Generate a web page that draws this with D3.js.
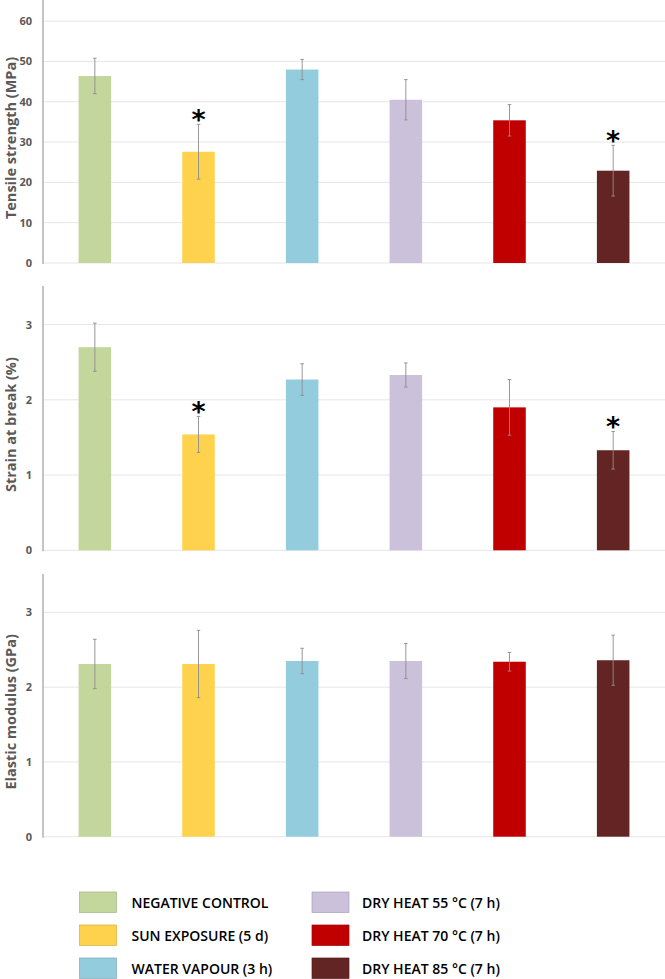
<!DOCTYPE html>
<html>
<head>
<meta charset="utf-8">
<script src="https://cdn.jsdelivr.net/npm/d3@7"></script>
<style>
  body { margin: 0; background: #fff; }
  svg { display: block; }
  text { font-family: "Open Sans", "DejaVu Sans", sans-serif; }
</style>
</head>
<body>
<svg id="chart" width="665" height="979"></svg>
<script>
// groups + colours (shared by all three panels and the legend)
const groups = ['NEGATIVE CONTROL', 'SUN EXPOSURE (5 d)', 'WATER VAPOUR (3 h)',
                'DRY HEAT 55 °C (7 h)', 'DRY HEAT 70 °C (7 h)', 'DRY HEAT 85 °C (7 h)'];
const colors = ['#C3D69B', '#FFD24D', '#93CDDD', '#CCC1DA', '#C00000', '#632523'];

// tensile strength (MPa)
const tensile = [46.4, 27.6, 48.0, 40.5, 35.4, 22.9];
const tensileErr = [4.4, 6.8, 2.5, 5.0, 3.9, 6.3];
const tensileSig = [false, true, false, false, false, true];
const tensileTicks = [0, 10, 20, 30, 40, 50, 60];

// strain at break (%)
const strain = [2.70, 1.54, 2.27, 2.33, 1.90, 1.33];
const strainErr = [0.32, 0.24, 0.21, 0.16, 0.37, 0.25];
const strainSig = [false, true, false, false, false, true];
const strainTicks = [0, 1, 2, 3];

// elastic modulus (GPa)
const modulus = [2.31, 2.31, 2.35, 2.35, 2.34, 2.36];
const modulusErr = [0.33, 0.45, 0.17, 0.235, 0.125, 0.335];
const modulusSig = [false, false, false, false, false, false];
const modulusTicks = [0, 1, 2, 3];

const svg = d3.select('#chart');
const axisX = 43, rightX = 665;
const textGrey = '#595959';

const x = d3.scaleBand().domain(groups).range([axisX, rightX]).padding(0);
const barW = x.bandwidth() * 0.314;

const panels = [
  { title: 'Tensile strength (MPa)', vals: tensile, err: tensileErr, sig: tensileSig, ticks: tensileTicks, max: 65, top: 1, bottom: 263 },
  { title: 'Strain at break (%)', vals: strain, err: strainErr, sig: strainSig, ticks: strainTicks, max: 3.5, top: 287, bottom: 550.3 },
  { title: 'Elastic modulus (GPa)', vals: modulus, err: modulusErr, sig: modulusSig, ticks: modulusTicks, max: 3.5, top: 575, bottom: 836.7 }
];

panels.forEach(p => {
  const y = d3.scaleLinear().domain([0, p.max]).range([p.bottom, p.top]);
  const g = svg.append('g');

  // gridlines
  g.selectAll('line.grid')
    .data(p.ticks)
    .join('line')
    .attr('x1', axisX).attr('x2', rightX)
    .attr('y1', d => y(d)).attr('y2', d => y(d))
    .attr('stroke', '#e6e6e6').attr('stroke-width', 1);

  // y axis, Excel-like: no tick marks, just labels
  const ax = g.append('g')
    .attr('transform', `translate(${axisX},0)`)
    .call(d3.axisLeft(y).tickValues(p.ticks).tickFormat(d3.format('d')).tickSize(0).tickPadding(11));
  ax.select('.domain').attr('stroke', '#a6a6a6').attr('stroke-width', 1.3)
    .attr('d', `M0,${p.top - 1}V${p.bottom + 1}`);
  ax.selectAll('text')
    .attr('fill', textGrey)
    .style('font-size', '11px').style('font-weight', 700)
    .style('font-family', '"Open Sans", sans-serif');

  // axis title
  g.append('text')
    .attr('transform', `translate(10,${(p.top + p.bottom) / 2 + 6}) rotate(-90)`)
    .attr('text-anchor', 'middle').attr('dominant-baseline', 'central')
    .attr('fill', textGrey)
    .style('font-size', '14.5px').style('font-weight', 700)
    .text(p.title);

  // bars
  g.selectAll('rect.bar')
    .data(groups)
    .join('rect')
    .attr('x', d => x(d) + x.bandwidth() / 2 - barW / 2)
    .attr('width', barW)
    .attr('y', (d, i) => y(p.vals[i]))
    .attr('height', (d, i) => y(0) - y(p.vals[i]))
    .attr('fill', (d, i) => colors[i]);

  // error bars
  const eb = g.selectAll('g.err')
    .data(groups)
    .join('g')
    .attr('stroke', '#8c8c8c').attr('stroke-width', 0.9);
  eb.append('line')
    .attr('x1', d => x(d) + x.bandwidth() / 2).attr('x2', d => x(d) + x.bandwidth() / 2)
    .attr('y1', (d, i) => y(p.vals[i] + p.err[i]))
    .attr('y2', (d, i) => y(p.vals[i] - p.err[i]));
  [1, -1].forEach(s => {
    eb.append('line')
      .attr('x1', d => x(d) + x.bandwidth() / 2 - 1.8).attr('x2', d => x(d) + x.bandwidth() / 2 + 1.8)
      .attr('y1', (d, i) => y(p.vals[i] + s * p.err[i]))
      .attr('y2', (d, i) => y(p.vals[i] + s * p.err[i]));
  });

  // significance markers
  g.selectAll('text.sig')
    .data(groups.filter((d, i) => p.sig[i]))
    .join('text')
    .attr('x', d => x(d) + x.bandwidth() / 2)
    .attr('y', d => { const i = groups.indexOf(d); return y(p.vals[i] + p.err[i]) + 5; })
    .attr('text-anchor', 'middle')
    .attr('fill', '#000')
    .style('font-family', '"DejaVu Sans", sans-serif')
    .style('font-size', '27px').style('font-weight', 700)
    .text('*');
});

// legend, two columns of three
const legend = svg.append('g');
const items = legend.selectAll('g')
  .data(groups)
  .join('g')
  .attr('transform', (d, i) => `translate(${i < 3 ? 79.5 : 312},${892 + (i % 3) * 33})`);
items.append('rect')
  .attr('width', 37).attr('height', 20.5)
  .attr('fill', (d, i) => colors[i])
  .attr('stroke', (d, i) => d3.color(colors[i]).darker(0.5))
  .attr('stroke-width', 0.7);
items.append('text')
  .attr('x', (d, i) => i < 3 ? 52 : 50)
  .attr('y', 10.5)
  .attr('dominant-baseline', 'central')
  .attr('fill', '#000')
  .style('font-size', '14px').style('font-weight', 600)
  .text(d => d);
</script>
</body>
</html>
